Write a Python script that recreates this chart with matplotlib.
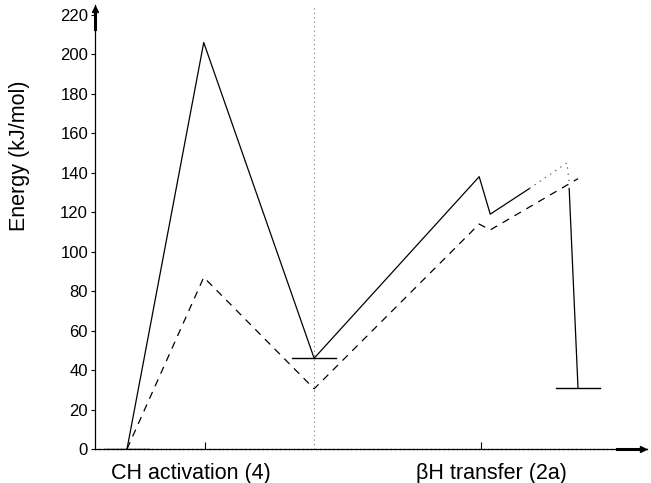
import matplotlib
matplotlib.use("Agg")
import matplotlib.pyplot as plt
from matplotlib.ticker import MultipleLocator

plt.rcParams["font.family"] = ["Liberation Sans", "DejaVu Sans"]

# reaction coordinate positions (arbitrary units) and energies in kJ/mol
solid_x = [0.58, 1.97, 3.97, 6.96, 7.16, 7.87]
solid_y = [0, 206, 46, 138, 119, 132]
dotted_x = [7.87, 8.55, 8.59]
dotted_y = [132, 145, 135]
drop_x = [8.59, 8.75]
drop_y = [132, 31]
dashed_x = [0.58, 1.97, 3.97, 6.96, 7.16, 8.75]
dashed_y = [0, 87, 30.5, 114, 111, 137]
level_x = [0.58, 3.97, 8.75]
level_y = [0, 46, 31]
divider_x = 3.97
section_ticks = [2, 7]
section_labels = ["CH activation (4)", "\u03b2H transfer (2a)"]
section_label_x = [1.74, 7.18]

fig = plt.figure(figsize=(6.51, 4.83), dpi=100)
ax = fig.add_axes([95 / 651, 34 / 483, 552 / 651, 444 / 483])

ax.plot(solid_x, solid_y, color="black", lw=0.9)
ax.plot(dotted_x, dotted_y, color="#555555", lw=0.9, ls=(0, (1, 4)))
ax.plot(drop_x, drop_y, color="black", lw=0.9)
ax.plot(dashed_x, dashed_y, color="black", lw=0.9, ls=(0, (6, 5)))
for lx, ly in zip(level_x, level_y):
    ax.plot([lx - 0.4, lx + 0.4], [ly, ly], color="black", lw=1.0)
ax.plot([divider_x, divider_x], [0, 225], color="#777777", lw=0.8, ls=(0, (1, 3)))

ax.set_xlim(0, 10)
ax.set_ylim(0, 225)
for s in ["top", "right"]:
    ax.spines[s].set_visible(False)
ax.spines["left"].set_linewidth(0.9)
ax.spines["bottom"].set_linewidth(0.9)

# axis arrows
ax.plot([0, 0], [213, 222], color="black", lw=2.2, clip_on=False)
ax.plot([0], [223], marker="^", color="black", ms=5, clip_on=False)
ax.plot([9.45, 9.9], [0, 0], color="black", lw=2.2, clip_on=False)
ax.plot([9.93], [0], marker=">", color="black", ms=5, clip_on=False)

ax.set_yticks(range(0, 221, 20))
ax.tick_params(axis="y", direction="out", length=3, width=0.8, labelsize=12, pad=2)
ax.set_xticks(section_ticks)
ax.set_xticklabels([])
ax.tick_params(axis="x", which="major", direction="in", length=5, width=0.8)
ax.xaxis.set_minor_locator(MultipleLocator(0.08))
ax.tick_params(axis="x", which="minor", direction="inout", length=2, width=0.4, color="#666666")

for tx, lab in zip(section_label_x, section_labels):
    ax.text(tx, -7, lab, ha="center", va="top", fontsize=15.5)

ax.set_ylabel("Energy (kJ/mol)", fontsize=15.5)
ax.yaxis.set_label_coords(-0.118, 0.66)

fig.savefig("out.png", dpi=100)
plt.close(fig)
